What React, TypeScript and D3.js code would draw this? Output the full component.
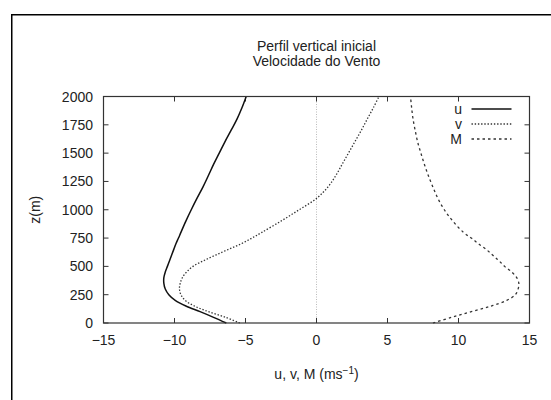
import React from "react";
import * as d3 from "d3";

const heights = [0, 50, 100, 150, 200, 250, 300, 350, 400, 450, 500, 550, 600, 650, 700, 750, 800, 900, 1000, 1100, 1200, 1300, 1400, 1500, 1600, 1700, 1800, 1900, 2000];
const uValues = [-6.35, -7.25, -8.2, -9.2, -9.95, -10.4, -10.65, -10.75, -10.75, -10.65, -10.5, -10.35, -10.2, -10.05, -9.9, -9.72, -9.55, -9.2, -8.82, -8.42, -8.0, -7.62, -7.25, -6.85, -6.45, -6.02, -5.6, -5.25, -4.95];
const vValues = [-5.4, -6.4, -7.6, -8.6, -9.25, -9.55, -9.65, -9.6, -9.45, -9.15, -8.7, -7.95, -7.1, -6.2, -5.3, -4.55, -3.85, -2.5, -1.22, 0.0, 0.8, 1.35, 1.8, 2.25, 2.7, 3.15, 3.57, 4.0, 4.4];
const mValues = [8.2, 9.5, 10.9, 12.3, 13.4, 14.0, 14.2, 14.25, 14.1, 13.75, 13.25, 12.85, 12.4, 11.95, 11.4, 10.9, 10.35, 9.6, 9.0, 8.55, 8.2, 7.88, 7.6, 7.35, 7.12, 6.95, 6.8, 6.7, 6.62];
const seriesNames = ["u", "v", "M"];
const xTicks = [-15, -10, -5, 0, 5, 10, 15];
const yTicks = [0, 250, 500, 750, 1000, 1250, 1500, 1750, 2000];
const titleLines = ["Perfil vertical inicial", "Velocidade do Vento"];

const FONT = "'Liberation Sans', Arial, Helvetica, sans-serif";

export default function App() {
  const left = 103.5, right = 529.5, top = 96.5, bottom = 323;
  const x = d3.scaleLinear().domain([-15, 15]).range([left, right]);
  const y = d3.scaleLinear().domain([0, 2000]).range([bottom, top]);
  const line = d3
    .line<[number, number]>()
    .x((d) => x(d[0]))
    .y((d) => y(d[1]))
    .curve(d3.curveCatmullRom.alpha(0.5));

  const series = [uValues, vValues, mValues];
  const styles = [
    { stroke: "#111", width: 1.5, dash: undefined as string | undefined },
    { stroke: "#333", width: 1.3, dash: "1.4,1.8" },
    { stroke: "#333", width: 1.3, dash: "2.5,3" },
  ];
  const tickLen = 5;
  const fs = 14;
  const xFmt = (v: number) => (v < 0 ? "\u2212" + Math.abs(v) : String(v));

  return (
    <svg
      width={551}
      height={400}
      style={{ position: "absolute", left: 0, top: 0, display: "block", background: "#fff" }}
      fontFamily={FONT}
    >
      <rect x={0} y={0} width={551} height={400} fill="#fff" />
      <path d="M11.75,400 L11.75,14.75 L551,14.75" fill="none" stroke="#000" strokeWidth={1.5} />

      {titleLines.map((t, i) => (
        <text key={t} x={(left + right) / 2} y={50.5 + i * 15.5} textAnchor="middle" fontSize={fs} fill="#222">
          {t}
        </text>
      ))}

      {/* zero line */}
      <line x1={x(0)} x2={x(0)} y1={top} y2={bottom} stroke="#aaa" strokeWidth={0.8} strokeDasharray="1,1.5" />

      {/* ticks */}
      {xTicks.map((t) => (
        <g key={"x" + t}>
          <line x1={x(t)} x2={x(t)} y1={bottom} y2={bottom - tickLen} stroke="#333" />
          <line x1={x(t)} x2={x(t)} y1={top} y2={top + tickLen} stroke="#333" />
          <text x={x(t)} y={345} textAnchor="middle" fontSize={fs} fill="#222">
            {xFmt(t)}
          </text>
        </g>
      ))}
      {yTicks.map((t) => (
        <g key={"y" + t}>
          <line x1={left} x2={left + tickLen} y1={y(t)} y2={y(t)} stroke="#333" />
          <line x1={right} x2={right - tickLen} y1={y(t)} y2={y(t)} stroke="#333" />
          <text x={93} y={y(t) + 5} textAnchor="end" fontSize={fs} fill="#222">
            {t}
          </text>
        </g>
      ))}

      {/* series */}
      {series.map((vals, i) => (
        <path
          key={seriesNames[i]}
          d={line(vals.map((v, j) => [v, heights[j]] as [number, number])) || ""}
          fill="none"
          stroke={styles[i].stroke}
          strokeWidth={styles[i].width}
          strokeDasharray={styles[i].dash}
        />
      ))}

      {/* frame */}
      <rect x={left} y={top} width={right - left} height={bottom - top} fill="none" stroke="#333" strokeWidth={1.2} />

      {/* legend */}
      {seriesNames.map((n, i) => (
        <g key={"leg" + n}>
          <text x={462} y={114 + i * 15} textAnchor="end" fontSize={fs} fill="#222">
            {n}
          </text>
          <line
            x1={471.5}
            x2={511.5}
            y1={109 + i * 15}
            y2={109 + i * 15}
            stroke={styles[i].stroke}
            strokeWidth={styles[i].width}
            strokeDasharray={styles[i].dash}
          />
        </g>
      ))}

      {/* axis labels */}
      <text x={(left + right) / 2} y={379} textAnchor="middle" fontSize={fs} fill="#222">
        u, v, M (ms
        <tspan dy={-5.5} fontSize={10}>
          {"\u22121"}
        </tspan>
        <tspan dy={5.5}>)</tspan>
      </text>
      <text
        transform={`translate(40, ${(top + bottom) / 2}) rotate(-90)`}
        textAnchor="middle"
        fontSize={fs}
        fill="#222"
      >
        z(m)
      </text>
    </svg>
  );
}
